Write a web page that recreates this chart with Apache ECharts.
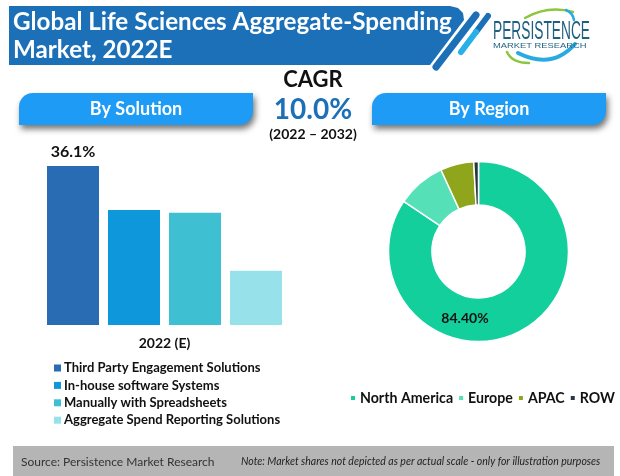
<!DOCTYPE html>
<html>
<head>
<meta charset="utf-8">
<style>html,body{margin:0;padding:0;background:#fff}#main{width:620px;height:476px}</style>
<script src="https://cdn.jsdelivr.net/npm/echarts@6/dist/echarts.min.js"></script>
</head>
<body>
<div id="main"></div>
<script>
var solutionNames = ['Third Party Engagement Solutions', 'In-house software Systems', 'Manually with Spreadsheets', 'Aggregate Spend Reporting Solutions'];
var solutionValues = [36.1, 26.1, 25.5, 12.3];
var solutionColors = ['#2a6cb4', '#0f97dc', '#3ec0d2', '#97e2ea'];
var yearLabels = ['2022 (E)'];
var regionNames = ['North America', 'Europe', 'APAC', 'ROW'];
var regionValues = [84.4, 8.75, 6.0, 0.85];
var regionColors = ['#12cf9c', '#56e0b8', '#8fa61c', '#2b3440'];

var font = 'Lato';
var myChart = echarts.init(document.getElementById('main'));

//bars, one series per solution so the legend can pick them up
var series = solutionNames.map(function (name, i) {
    return {
        name: name,
        type: 'bar',
        barWidth: 52,
        barGap: '17.3%',
        itemStyle: { color: solutionColors[i] },
        label: {
            show: i === 0,
            position: 'top',
            formatter: '{c}%',
            color: '#111',
            fontFamily: font,
            fontWeight: 'bold',
            fontSize: 16,
            distance: 6
        },
        data: [solutionValues[i]]
    };
});

series.push({
    name: 'By Region',
    type: 'pie',
    center: [478.5, 251.5],
    radius: [46.5, 90],
    startAngle: 90,
    silent: true,
    itemStyle: { borderColor: '#fff', borderWidth: 1.5 },
    label: { show: false, position: 'inside' },
    labelLine: { show: false },
    labelLayout: { x: 465, y: 318, align: 'center', verticalAlign: 'middle' },
    data: regionNames.map(function (name, i) {
        return {
            name: name,
            value: regionValues[i],
            itemStyle: { color: regionColors[i] },
            label: {
                show: i === 0,
                position: 'inside',
                overflow: 'none',
                formatter: function (p) { return p.value.toFixed(2) + '%'; },
                color: '#111',
                fontFamily: font,
                fontWeight: 'bold',
                fontSize: 14
            }
        };
    })
});

function pill(x, label) {
    return [
        {
            type: 'rect',
            shape: { x: x, y: 93, width: 234, height: 32, r: [14, 0, 14, 0] },
            style: { fill: '#1e9bf5', shadowColor: 'rgba(0,0,0,0.55)', shadowBlur: 6, shadowOffsetX: 2, shadowOffsetY: 4 }
        },
        {
            type: 'text',
            style: { text: label, x: x + 117, y: 109, align: 'center', verticalAlign: 'middle', fill: '#fff', font: 'bold 18px ' + font }
        }
    ];
}

function centerText(text, y, size, color) {
    return {
        type: 'text',
        style: { text: text, x: 313, y: y, align: 'center', verticalAlign: 'middle', fill: color, font: 'bold ' + size + 'px ' + font }
    };
}

function swoosh(x1, y1, cx, cy, x2, y2, color, width) {
    return {
        type: 'bezierCurve',
        shape: { x1: x1, y1: y1, cpx1: cx, cpy1: cy, x2: x2, y2: y2 },
        style: { stroke: color, lineWidth: width, fill: 'none', lineCap: 'round' }
    };
}

var graphics = [
    //title banner
    {
        type: 'polygon',
        shape: { points: [[9, 6], [450, 6], [458, 8], [463, 13], [464, 20], [430, 65], [9, 65]] },
        style: { fill: '#1c70b8' }
    },
    { type: 'line', shape: { x1: 476, y1: 15, x2: 436, y2: 67 }, style: { stroke: '#1c70b8', lineWidth: 7, lineCap: 'round' } },
    { type: 'line', shape: { x1: 488, y1: 16, x2: 476, y2: 32 }, style: { stroke: '#1c70b8', lineWidth: 6, lineCap: 'round' } },
    { type: 'line', shape: { x1: 476, y1: 32, x2: 461, y2: 52 }, style: { stroke: '#2ab0e8', lineWidth: 6, lineCap: 'round' } },
    {
        type: 'text',
        style: { text: 'Global Life Sciences Aggregate-Spending', x: 13, y: 22, verticalAlign: 'middle', fill: '#fff', font: 'bold 24.2px ' + font }
    },
    {
        type: 'text',
        style: { text: 'Market, 2022E', x: 13, y: 50, verticalAlign: 'middle', fill: '#fff', font: 'bold 24.2px ' + font }
    },
    //logo
    swoosh(525, 18, 548, 5, 573, 12, '#8cc63f', 2.5),
    swoosh(566, 10, 573, 13, 574, 20, '#29abe2', 2.5),
    swoosh(507, 52, 512, 63, 529, 63, '#8cc63f', 2.5),
    swoosh(518, 53, 552, 70, 575, 44, '#29abe2', 4),
    {
        type: 'text',
        x: 493,
        y: 32,
        scaleX: 0.55,
        style: { text: 'PERSISTENCE', verticalAlign: 'middle', fill: '#1f5f7f', font: '25px "Liberation Sans"' }
    },
    {
        type: 'text',
        x: 493,
        y: 46,
        scaleX: 1.17,
        style: { text: 'MARKET RESEARCH', verticalAlign: 'middle', fill: '#1f5f7f', font: '8px "Liberation Sans"' }
    },
    //middle block
    centerText('CAGR', 80, 22, '#111'),
    centerText('10.0%', 110, 28, '#1c70b8'),
    centerText('(2022 \u2013 2032)', 134, 14, '#111'),
    //footer
    { type: 'rect', shape: { x: 13, y: 446, width: 601, height: 30 }, style: { fill: '#b5b5b5' } },
    {
        type: 'text',
        style: { text: 'Source: Persistence Market Research', x: 21, y: 462, verticalAlign: 'middle', fill: '#333', font: '12px ' + font }
    },
    {
        type: 'text',
        style: { text: 'Note: Market shares not depicted as per actual scale - only for illustration purposes', x: 241, y: 462, verticalAlign: 'middle', fill: '#222', font: 'italic 10.5px ' + font }
    }
].concat(pill(19, 'By Solution'), pill(372, 'By Region'));

option = {
    animation: false,
    grid: { left: 40, width: 249, top: 148.8, height: 176.2 },
    xAxis: {
        type: 'category',
        data: yearLabels,
        axisLine: { show: false },
        axisTick: { show: false },
        axisLabel: { color: '#111', fontFamily: font, fontWeight: 'bold', fontSize: 14, margin: 11 }
    },
    yAxis: { type: 'value', min: 0, max: 40, show: false },
    legend: [
        {
            orient: 'vertical',
            left: 54,
            top: 361.5,
            data: solutionNames,
            icon: 'rect',
            itemWidth: 7,
            itemHeight: 7,
            itemGap: 4.4,
            textStyle: { color: '#111', fontFamily: font, fontWeight: 'bold', fontSize: 13, padding: [0, 0, 0, -2] },
            padding: 0
        },
        {
            orient: 'horizontal',
            left: 349,
            right: -40,
            top: 391,
            data: regionNames,
            icon: 'rect',
            itemWidth: 6,
            itemHeight: 6,
            itemGap: 4,
            textStyle: { color: '#111', fontFamily: font, fontWeight: 'bold', fontSize: 14.2, padding: [0, 0, 0, -1] },
            padding: 0
        }
    ],
    graphic: { elements: graphics },
    series: series
};
myChart.setOption(option);
</script>
</body>
</html>
